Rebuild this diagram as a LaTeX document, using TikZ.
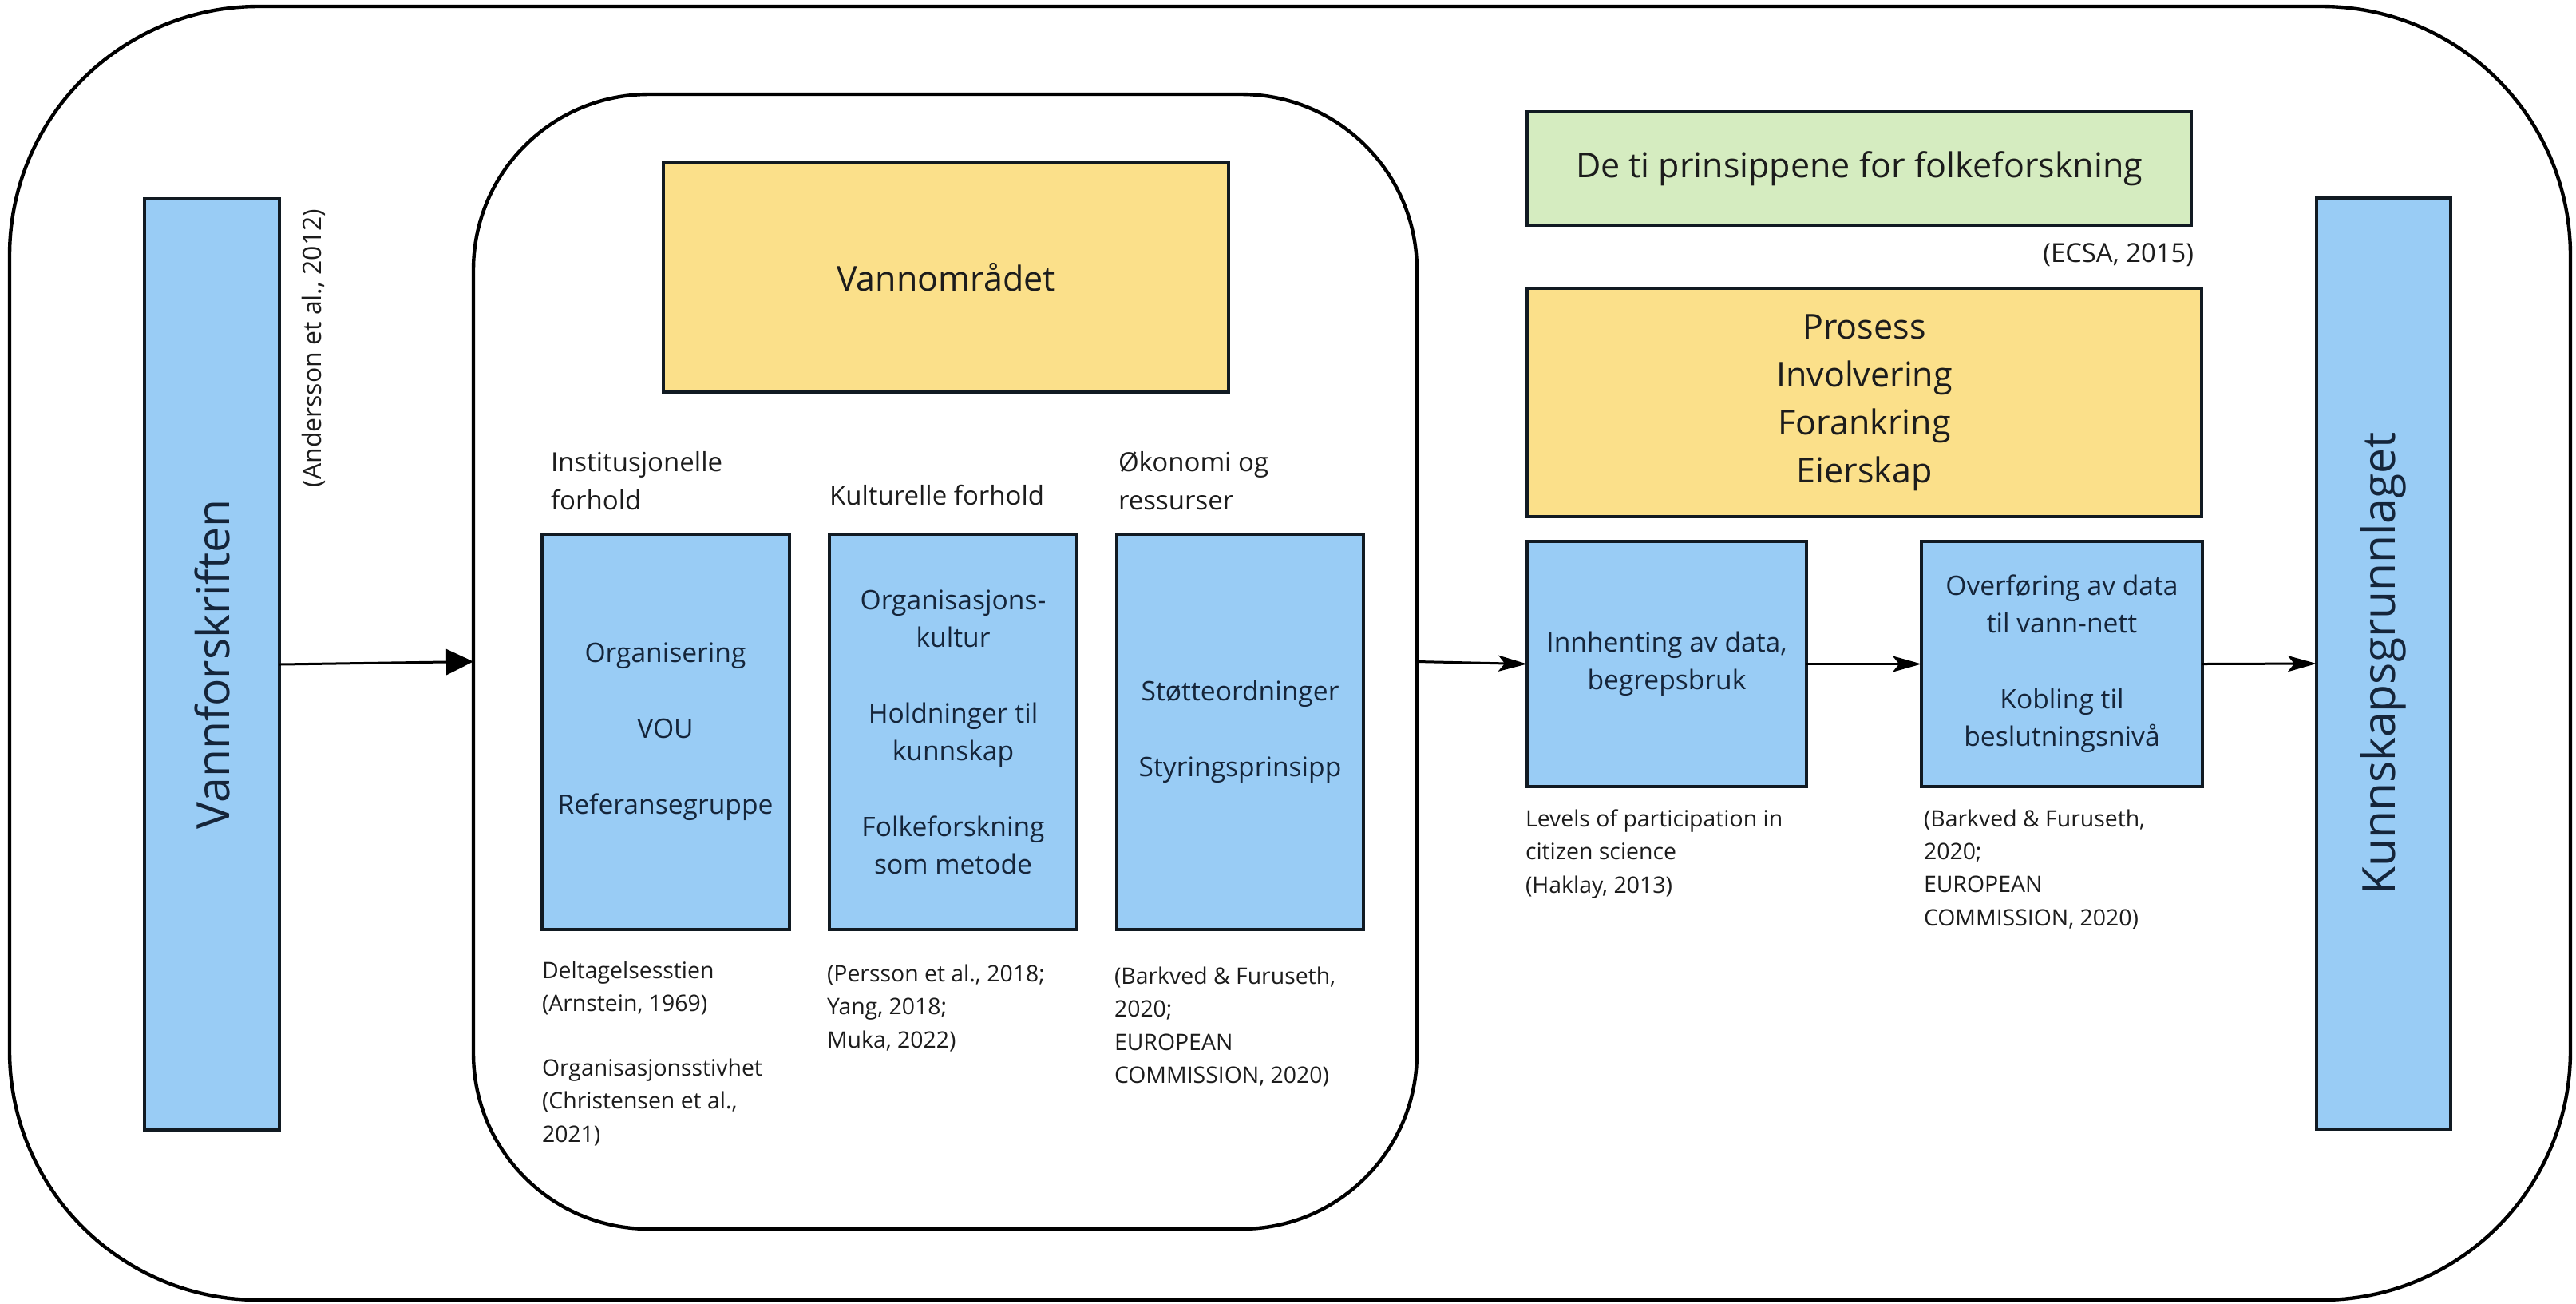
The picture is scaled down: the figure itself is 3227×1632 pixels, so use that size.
\documentclass[tikz,border=0pt]{standalone}
\usepackage{fontspec}
\setmainfont{Open Sans}
\usetikzlibrary{arrows.meta}
\definecolor{boxblue}{HTML}{99CCF5}
\definecolor{boxyellow}{HTML}{FBE08A}
\definecolor{boxgreen}{HTML}{D5ECC0}
\definecolor{txtblue}{HTML}{15253A}
\definecolor{txtdark}{HTML}{1C1C1C}
\definecolor{edgecol}{HTML}{111A22}
\begin{document}
\begin{tikzpicture}[x=0.25pt,y=-0.25pt,
  every node/.style={inner sep=0pt,outer sep=0pt},
  frame/.style={draw=black,line width=1.1pt},
  filled/.style={draw=edgecol,line width=1pt},
  bluebox/.style={filled,fill=boxblue,text=txtblue,align=center,font=\fontsize{8.4pt}{11.75pt}\selectfont},
  yellowbox/.style={filled,fill=boxyellow,text=txtdark,align=center},
  greenbox/.style={filled,fill=boxgreen,text=txtdark,align=center},
  headtxt/.style={anchor=north west,align=left,text=txtdark,font=\fontsize{8.25pt}{12pt}\selectfont},
  citetxt/.style={anchor=north west,align=left,text=txtdark,font=\fontsize{7.1pt}{10.3pt}\selectfont},
  bigfont/.style={font=\fontsize{14.25pt}{17pt}\selectfont},
  flow/.style={draw=black,line width=0.75pt,-{Stealth[length=9pt,width=5pt,inset=2pt]}},
  flowbig/.style={draw=black,line width=0.75pt,-{Triangle[length=8.5pt,width=8pt]}},
]
\useasboundingbox (0,0) rectangle (3227,1632);

% frames
\node[frame,rounded corners=78pt,minimum width=802pt,minimum height=405pt] (outer) at (1616,818) {};
\node[frame,rounded corners=55pt,minimum width=295.5pt,minimum height=355.25pt] (inner) at (1184,828.5) {};

% left column
\node[bluebox,bigfont,minimum width=42.25pt,minimum height=291.5pt] (vf) at (265.5,832) {\rotatebox{90}{Vannforskriften}};
\node[rotate=90,text=txtdark,font=\fontsize{8pt}{10pt}\selectfont] (andersson) at (393,436) {(Andersson et al., 2012)};

% inner area
\node[yellowbox,font=\fontsize{10.75pt}{13pt}\selectfont,minimum width=177pt,minimum height=72pt] (vo) at (1185,347) {Vannområdet};

\node[headtxt] (h1) at (690,565) {Institusjonelle\\forhold};
\node[headtxt] (h2) at (1039,607) {Kulturelle forhold};
\node[headtxt] (h3) at (1401,565) {Økonomi og\\ressurser};

\node[bluebox,minimum width=77.5pt,minimum height=123.75pt] (b1) at (833.5,916.5) {Organisering\\[12pt]VOU\\[12pt]Referansegruppe};
\node[bluebox,minimum width=77.5pt,minimum height=123.75pt] (b2) at (1194,916.5) {Organisasjons-\\kultur\\[12pt]Holdninger til\\kunnskap\\[12pt]Folkeforskning\\som metode};
\node[bluebox,minimum width=77.25pt,minimum height=123.75pt] (b3) at (1553.5,916.5) {Støtteordninger\\[12pt]Styringsprinsipp};

\node[citetxt] (c1) at (679,1204) {Deltagelsesstien\\(Arnstein, 1969)\\[9.9pt]Organisasjonsstivhet\\(Christensen et al.,\\2021)};
\node[citetxt] (c2) at (1036,1208) {(Persson et al., 2018;\\Yang, 2018;\\Muka, 2022)};
\node[citetxt] (c3) at (1396,1211) {(Barkved \& Furuseth,\\2020;\\EUROPEAN\\COMMISSION, 2020)};

% right area
\node[greenbox,font=\fontsize{10.75pt}{13pt}\selectfont,minimum width=208pt,minimum height=35.5pt] (princ) at (2329,211) {De ti prinsippene for folkeforskning};
\node[anchor=east,text=txtdark,font=\fontsize{8.2pt}{10pt}\selectfont] (ecsa) at (2748,319) {(ECSA, 2015)};
\node[yellowbox,font=\fontsize{10.75pt}{15pt}\selectfont,minimum width=211.25pt,minimum height=71.5pt] (pief) at (2335.5,504) {Prosess\\Involvering\\Forankring\\Eierskap};

\node[bluebox,minimum width=87.5pt,minimum height=76.75pt] (b4) at (2088,831.5) {Innhenting av data,\\begrepsbruk};
\node[bluebox,minimum width=88pt,minimum height=76.75pt] (b5) at (2583,831.5) {Overføring av data\\til vann-nett\\[12pt]Kobling til\\beslutningsnivå};

\node[citetxt] (c4) at (1911,1014) {Levels of participation in\\citizen science\\(Haklay, 2013)};
\node[citetxt] (c5) at (2410,1014) {(Barkved \& Furuseth,\\2020;\\EUROPEAN\\COMMISSION, 2020)};

\node[bluebox,bigfont,minimum width=42pt,minimum height=291.5pt] (kg) at (2986,831) {\rotatebox{90}{Kunnskapsgrunnlaget}};

% connectors
\draw[flowbig] (vf.east) -- (inner.west);
\draw[flow] (inner.east) -- (b4.west);
\draw[flow] (b4.east) -- (b5.west);
\draw[flow] (b5.east) -- (kg.west);
\end{tikzpicture}
\end{document}
